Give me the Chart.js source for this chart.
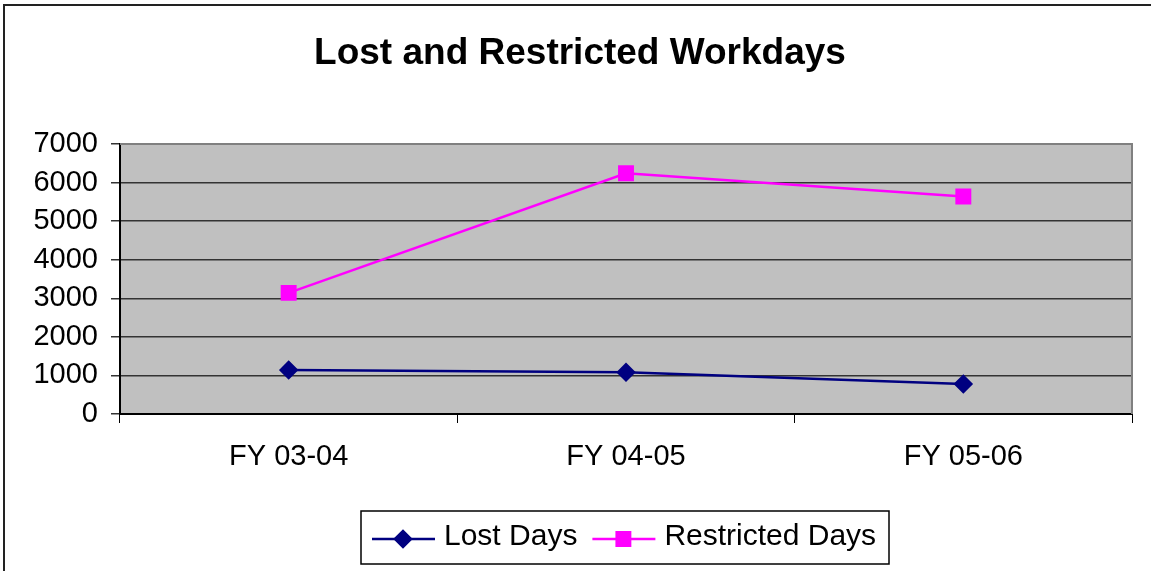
<!DOCTYPE html>
<html>
<head>
<meta charset="utf-8">
<script src="https://cdn.jsdelivr.net/npm/chart.js@4/dist/chart.umd.min.js"></script>
<style>
  html, body { margin: 0; padding: 0; background: #fff; overflow: hidden; }
  #wrap { position: relative; width: 1151px; height: 571px; }
</style>
</head>
<body>
<div id="wrap"><canvas id="chart" width="1151" height="571"></canvas></div>
<script>
// data
const categories = ["FY 03-04", "FY 04-05", "FY 05-06"];
const lostDays = [1140, 1080, 780];
const restrictedDays = [3140, 6240, 5640];
const chartTitle = "Lost and Restricted Workdays";
const FONT = "'Liberation Sans', Arial, sans-serif";

// grey plot background, frame and title
const decor = {
  id: 'decor',
  beforeDraw(chart) {
    const { ctx, chartArea: a } = chart;
    ctx.save();
    ctx.fillStyle = '#fff';
    ctx.fillRect(0, 0, chart.width, chart.height);
    ctx.fillStyle = '#C0C0C0';
    ctx.fillRect(a.left, a.top, a.right - a.left, a.bottom - a.top);
    ctx.restore();
  },
  afterDraw(chart) {
    const { ctx, chartArea: a } = chart;
    ctx.save();
    // plot area edge
    ctx.strokeStyle = '#808080';
    ctx.lineWidth = 2;
    ctx.beginPath();
    ctx.moveTo(a.left, a.top);
    ctx.lineTo(a.right, a.top);
    ctx.lineTo(a.right, a.bottom);
    ctx.stroke();
    // outer frame (cut off right and bottom)
    ctx.strokeStyle = '#222';
    ctx.lineWidth = 2;
    ctx.strokeRect(4, 5, 1200, 620);
    // title
    ctx.fillStyle = '#000';
    ctx.font = "bold 37px " + FONT;
    ctx.textAlign = 'center';
    ctx.textBaseline = 'alphabetic';
    ctx.fillText(chartTitle, 580, 64);
    ctx.restore();
  }
};

// boxed legend like the original
const boxLegend = {
  id: 'boxLegend',
  afterDraw(chart) {
    const { ctx } = chart;
    const box = { x: 361, y: 511, w: 528, h: 53 };
    ctx.save();
    ctx.strokeStyle = '#000';
    ctx.lineWidth = 1.5;
    ctx.strokeRect(box.x, box.y, box.w, box.h);
    ctx.font = "30px " + FONT;
    ctx.textBaseline = 'alphabetic';
    ctx.textAlign = 'left';
    const cy = 539;
    let x = box.x + 11;
    chart.data.datasets.forEach(ds => {
      ctx.strokeStyle = ds.borderColor;
      ctx.lineWidth = ds.borderWidth;
      ctx.beginPath();
      ctx.moveTo(x, cy);
      ctx.lineTo(x + 63, cy);
      ctx.stroke();
      Chart.helpers.drawPoint(ctx, {
        pointStyle: ds.pointStyle,
        radius: ds.pointRadius,
        borderWidth: 1,
        rotation: 0
      }, x + 31, cy);
      ctx.fillStyle = ds.pointBackgroundColor;
      ctx.strokeStyle = ds.pointBorderColor;
      ctx.fill();
      ctx.fillStyle = '#000';
      ctx.fillText(ds.label, x + 72, 545);
      x += 72 + ctx.measureText(ds.label).width + 15;
    });
    ctx.restore();
  }
};

new Chart(document.getElementById('chart'), {
  type: 'line',
  data: {
    labels: categories,
    datasets: [
      {
        label: "Lost Days",
        data: lostDays,
        borderColor: "#000080",
        backgroundColor: "#000080",
        pointBackgroundColor: "#000080",
        pointBorderColor: "#000080",
        borderWidth: 2.5,
        pointStyle: 'rectRot',
        pointRadius: 8,
        tension: 0
      },
      {
        label: "Restricted Days",
        data: restrictedDays,
        borderColor: "#FF00FF",
        backgroundColor: "#FF00FF",
        pointBackgroundColor: "#FF00FF",
        pointBorderColor: "#FF00FF",
        borderWidth: 2.5,
        pointStyle: 'rect',
        pointRadius: 9.5,
        tension: 0
      }
    ]
  },
  options: {
    responsive: false,
    animation: false,
    layout: { padding: { top: 144, left: 0, right: 19, bottom: 0 } },
    plugins: {
      legend: { display: false },
      title: { display: false },
      tooltip: { enabled: false }
    },
    scales: {
      x: {
        offset: true,
        afterFit(scale) { scale.height = 157; },
        grid: {
          offset: true,
          drawOnChartArea: false,
          tickLength: 9,
          color: '#000',
          lineWidth: 1
        },
        border: { color: '#000', width: 2 },
        ticks: {
          color: '#000',
          padding: 17,
          font: { family: FONT, size: 29 }
        }
      },
      y: {
        min: 0,
        max: 7000,
        afterFit(scale) { scale.width = 120; },
        ticks: {
          stepSize: 1000,
          color: '#000',
          padding: 13,
          font: { family: FONT, size: 29 },
          callback: v => String(v)  // no thousands separator
        },
        grid: {
          color: '#333',
          lineWidth: 1.5,
          tickLength: 9
        },
        border: { color: '#000', width: 2 }
      }
    }
  },
  plugins: [decor, boxLegend]
});
</script>
</body>
</html>
